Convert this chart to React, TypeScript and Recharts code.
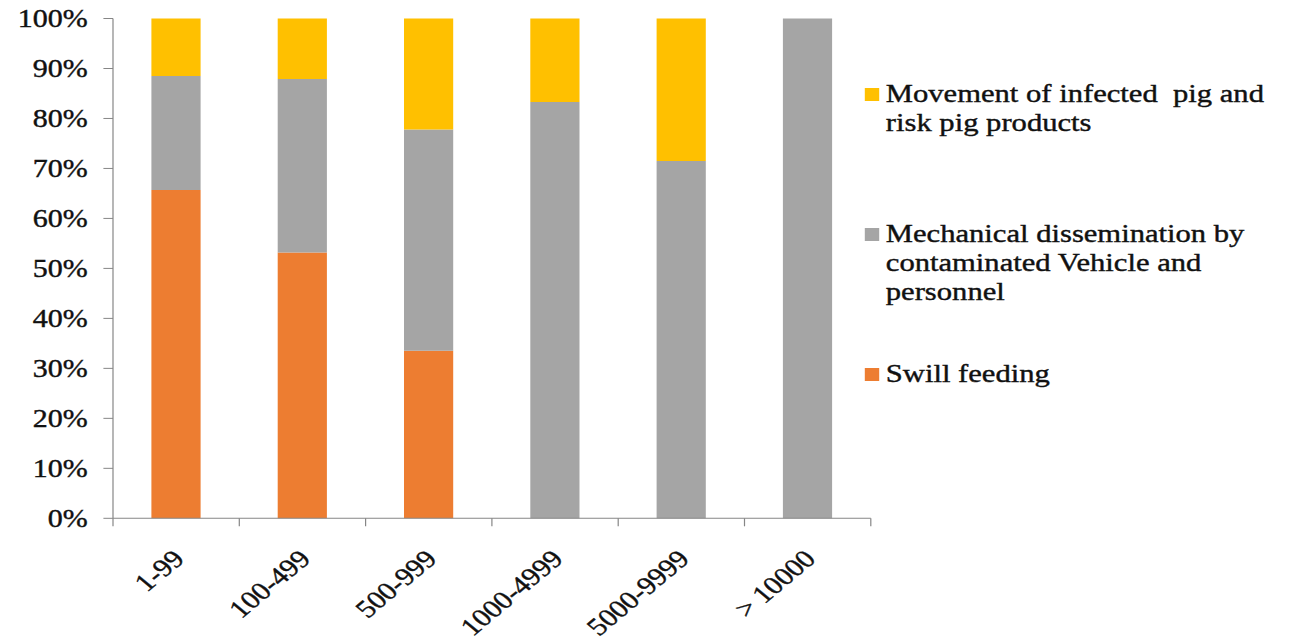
import React from "react";
import { BarChart, Bar, XAxis, YAxis, Legend } from "recharts";

const categories = ["1-99", "100-499", "500-999", "1000-4999", "5000-9999", "> 10000"];
const swillFeeding = [65.7, 53.2, 33.5, 0, 0, 0];
const mechanical = [22.8, 34.7, 44.3, 83.3, 71.5, 100];
const movement = [11.5, 12.1, 22.2, 16.7, 28.5, 0];
const yTicks = [0, 10, 20, 30, 40, 50, 60, 70, 80, 90, 100];
// legend lists the stack from top to bottom
const legendOrder = ["movement", "mechanical", "swill"];

const data = categories.map((name, i) => ({
  name,
  swill: swillFeeding[i],
  mechanical: mechanical[i],
  movement: movement[i],
}));

const FONT = "Liberation Serif";
const AXIS = "#868686";
const TEXT = "#111";

// category tick: boundary marks between bands, label rotated -45
function CategoryTick(props: any) {
  const { x, y, payload, index, visibleTicksCount } = props;
  const half = payload?.offset ?? 52.6;
  const last = index === visibleTicksCount - 1;
  return (
    <g>
      <line x1={x - half} x2={x - half} y1={y} y2={y + 8} stroke={AXIS} />
      {last && <line x1={x + half} x2={x + half} y1={y} y2={y + 8} stroke={AXIS} />}
      <text
        x={x + 8}
        y={y + 42}
        transform={`rotate(-45, ${x + 8}, ${y + 42})`}
        textAnchor="end"
        style={{ fontFamily: FONT }}
        fontSize={25}
        fill={TEXT}
        stroke={TEXT}
        strokeWidth={0.4}
      >
        {payload.value}
      </text>
    </g>
  );
}

function LegendList(props: any) {
  const items = [...(props.payload ?? [])].sort(
    (a: any, b: any) => legendOrder.indexOf(a.dataKey) - legendOrder.indexOf(b.dataKey)
  );
  return (
    <div
      style={{
        width: 336,
        fontFamily: FONT,
        fontSize: 25.5,
        lineHeight: "29px",
        color: TEXT,
        WebkitTextStroke: "0.4px #111",
      }}
    >
      {items.map((entry: any) => (
        <div key={entry.value} style={{ position: "relative", height: 140, paddingLeft: 17.5, whiteSpace: "pre-wrap" }}>
          <span
            style={{ position: "absolute", left: 0, top: 8.5, width: 12, height: 13, background: entry.color }}
          />
          {entry.value}
        </div>
      ))}
    </div>
  );
}

export default function App() {
  return (
    <div
      style={{
        width: 1065,
        height: 642,
        marginTop: -8,
        transform: "scaleX(1.2)",
        transformOrigin: "0 0",
        fontFamily: FONT,
      }}
    >
      <BarChart
        width={1065}
        height={642}
        data={data}
        barSize={41}
        margin={{ top: 18.5, right: 346, left: 0, bottom: 23.7 }}
      >
        <XAxis
          dataKey="name"
          height={100}
          interval={0}
          tickLine={false}
          tickSize={0}
          tickMargin={0}
          axisLine={{ stroke: AXIS }}
          tick={<CategoryTick />}
        />
        <YAxis
          width={87.5}
          domain={[0, 100]}
          ticks={yTicks}
          interval={0}
          tickFormatter={(v: number) => `${v}%`}
          tickSize={8}
          tickMargin={13}
          axisLine={{ stroke: AXIS }}
          tickLine={{ stroke: AXIS }}
          tick={{ fontSize: 25, fill: TEXT, stroke: TEXT, strokeWidth: 0.4, style: { fontFamily: FONT } }}
        />
        <Legend
          layout="vertical"
          align="center"
          verticalAlign="middle"
          content={<LegendList />}
          wrapperStyle={{ left: 714, top: 79, width: 336 }}
        />
        <Bar dataKey="swill" name="Swill feeding" stackId="a" fill="#ED7D31" isAnimationActive={false} />
        <Bar
          dataKey="mechanical"
          name="Mechanical dissemination by contaminated Vehicle and personnel"
          stackId="a"
          fill="#A5A5A5"
          isAnimationActive={false}
        />
        <Bar
          dataKey="movement"
          name="Movement of infected  pig and risk pig products"
          stackId="a"
          fill="#FFC000"
          isAnimationActive={false}
        />
      </BarChart>
    </div>
  );
}
